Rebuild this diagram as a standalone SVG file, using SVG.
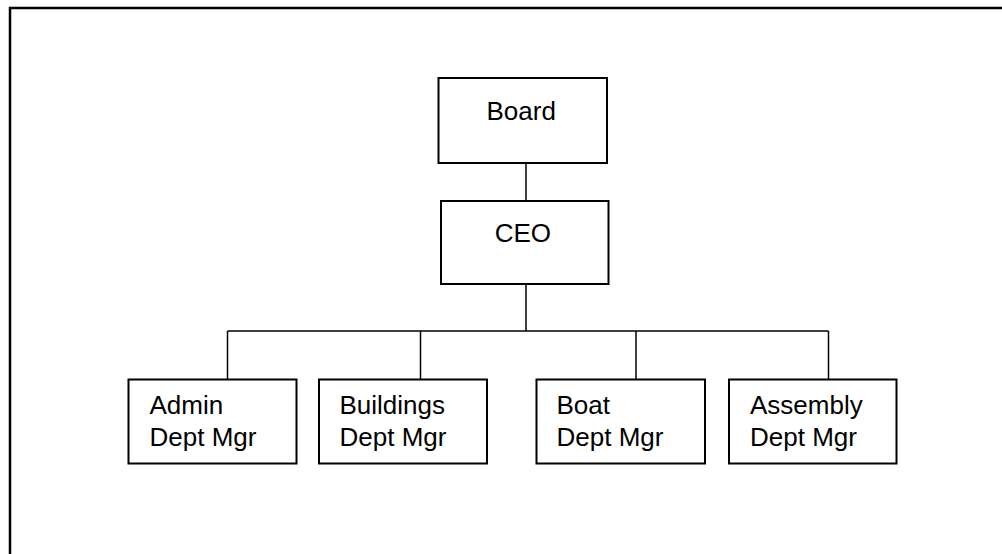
<svg xmlns="http://www.w3.org/2000/svg" width="1002" height="554" viewBox="0 0 1002 554">
  <style>
    .box { fill: #ffffff; stroke: #000000; stroke-width: 2; }
    .wire { fill: none; stroke: #000000; stroke-width: 1.5; }
    .frame { fill: none; stroke: #000000; stroke-width: 2.5; }
    .label { font-family: "Liberation Sans", Arial, sans-serif; font-size: 26px; fill: #000000; }
  </style>
  <rect x="0" y="0" width="1002" height="554" fill="#ffffff"/>
  <!-- page frame (top and left edges visible) -->
  <path class="frame" d="M10,560 L10,8 L1010,8"/>

  <g id="connectors">
    <line class="wire" x1="526" y1="163" x2="526" y2="201"/>
    <line class="wire" x1="526" y1="284" x2="526" y2="331"/>
    <line class="wire" x1="227.5" y1="331" x2="828.5" y2="331"/>
    <line class="wire" x1="227.5" y1="331" x2="227.5" y2="379"/>
    <line class="wire" x1="420.5" y1="331" x2="420.5" y2="379"/>
    <line class="wire" x1="636" y1="331" x2="636" y2="379"/>
    <line class="wire" x1="828.5" y1="331" x2="828.5" y2="379"/>
  </g>

  <g id="board">
    <rect class="box" x="438.5" y="78" width="168.5" height="85"/>
    <text class="label" x="486.5" y="119.5">Board</text>
  </g>
  <g id="ceo">
    <rect class="box" x="441" y="201" width="167.5" height="83"/>
    <text class="label" x="494.7" y="241.7">CEO</text>
  </g>
  <g id="admin">
    <rect class="box" x="128.5" y="379.5" width="168" height="84"/>
    <text class="label" x="149.5" y="414.3">Admin</text>
    <text class="label" x="149.5" y="446">Dept Mgr</text>
  </g>
  <g id="buildings">
    <rect class="box" x="319" y="379.5" width="168" height="84"/>
    <text class="label" x="339.5" y="414.3">Buildings</text>
    <text class="label" x="339.5" y="446">Dept Mgr</text>
  </g>
  <g id="boat">
    <rect class="box" x="536.5" y="379.5" width="168.5" height="84"/>
    <text class="label" x="556.5" y="414.3">Boat</text>
    <text class="label" x="556.5" y="446">Dept Mgr</text>
  </g>
  <g id="assembly">
    <rect class="box" x="729" y="379.5" width="167.5" height="84"/>
    <text class="label" x="750" y="414.3">Assembly</text>
    <text class="label" x="750" y="446">Dept Mgr</text>
  </g>
</svg>
